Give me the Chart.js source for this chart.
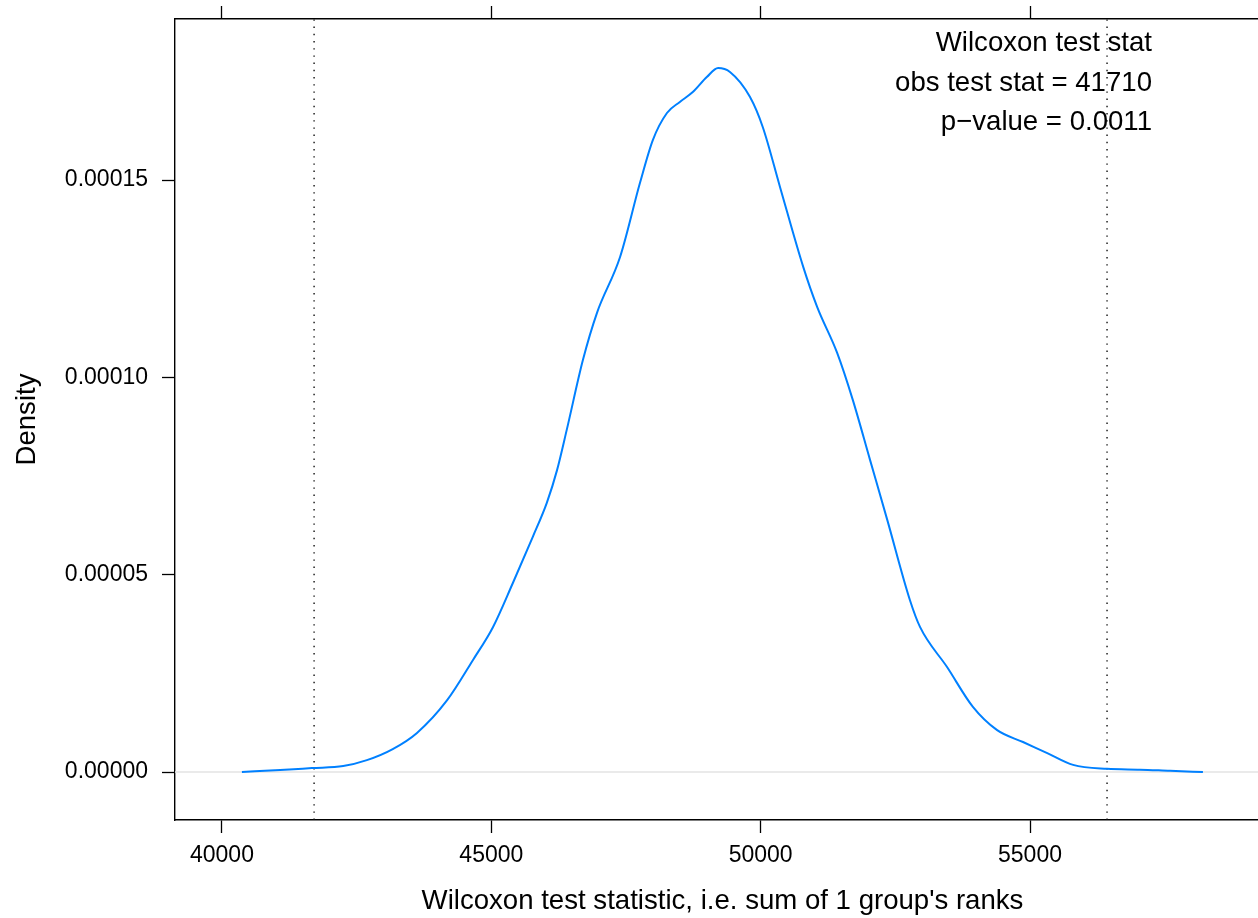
<!DOCTYPE html>
<html>
<head>
<meta charset="utf-8">
<title>Wilcoxon test statistic density</title>
<script src="https://cdn.jsdelivr.net/npm/chart.js@4/dist/chart.umd.min.js"></script>
<style>
  html, body { margin: 0; padding: 0; background: #fff; overflow: hidden; }
  #wrap { position: relative; width: 1270px; height: 918px; }
</style>
</head>
<body>
<div id="wrap"><canvas id="chart"></canvas></div>
<script>
// Permutation distribution of the rank-sum statistic (kernel density estimate)
const statValues = [
  40370, 41080, 41670, 42250, 42690, 43170, 43620, 44180, 44660, 45030,
  45400, 45770, 46030, 46220, 46400, 46700, 46960, 47390, 47760, 48000,
  48260, 48500, 48740, 49000, 49210, 49430, 49800, 50040, 50360, 50790,
  51050, 51420, 51710, 52030, 52350, 52770, 52960, 53460, 53940, 54390,
  54870, 55320, 55800, 56430, 57040, 57600, 58210
];
const densityValues = [
  0.0000000, 0.0000005, 0.0000010, 0.0000015, 0.0000030, 0.0000058, 0.0000099, 0.0000182, 0.0000284, 0.0000367,
  0.0000479, 0.0000596, 0.0000682, 0.0000765, 0.0000867, 0.0001044, 0.0001163, 0.0001305, 0.0001493, 0.0001602,
  0.0001670, 0.0001698, 0.0001723, 0.0001761, 0.0001784, 0.0001774, 0.0001711, 0.0001634, 0.0001482, 0.0001280,
  0.0001178, 0.0001062, 0.0000943, 0.0000791, 0.0000639, 0.0000436, 0.0000367, 0.0000266, 0.0000165, 0.0000106,
  0.0000076, 0.0000048, 0.0000018, 0.0000008, 0.0000006, 0.0000003, 0.0000000
];

// Observed statistic and its mirror image about the null centre
const observedStat = 41710;
const referenceLines = [41710, 56430];
const pValue = "0.0011";

// Tick positions and labels
const xTicks = [40000, 45000, 50000, 55000];
const yTicks = [0, 0.00005, 0.0001, 0.00015];

// Axis ranges
const xRange = [39128, 59455];
const yRange = [-0.00001216, 0.00019082];

const annotationLines = [
  "Wilcoxon test stat",
  "obs test stat = " + observedStat,
  "p\u2212value = " + pValue
];

const FONT = "'Liberation Sans', Arial, Helvetica, sans-serif";

const curveData = statValues.map((x, i) => ({ x: x, y: densityValues[i] }));
const refDatasets = referenceLines.map(v => ({
  data: [{ x: v, y: yRange[0] }, { x: v, y: yRange[1] }],
  borderColor: '#111111',
  borderWidth: 1.4,
  borderDash: [1.4, 5.8],
  pointRadius: 0,
  fill: false,
  order: 1
}));

// Key text in the upper right of the panel
const annotationPlugin = {
  id: 'statAnnotation',
  beforeDatasetsDraw(chart) {
    const ctx = chart.ctx;
    ctx.save();
    ctx.font = "27.6px " + FONT;
    ctx.fillStyle = '#000';
    ctx.textAlign = 'right';
    ctx.textBaseline = 'alphabetic';
    const baselines = [51, 91, 130];
    annotationLines.forEach((t, i) => ctx.fillText(t, 1152, baselines[i]));
    ctx.restore();
  }
};

const noPad = s => { s.paddingTop = 0; s.paddingBottom = 0; s.paddingLeft = 0; s.paddingRight = 0; };

new Chart(document.getElementById('chart'), {
  type: 'line',
  data: {
    datasets: [
      {
        data: curveData,
        borderColor: '#0080ff',
        borderWidth: 2,
        pointRadius: 0,
        fill: false,
        cubicInterpolationMode: 'monotone',
        order: 0
      },
      ...refDatasets,
      {
        data: [{ x: xRange[0], y: 0 }, { x: xRange[1], y: 0 }],
        borderColor: '#e3e3e3',
        borderWidth: 1.6,
        pointRadius: 0,
        fill: false,
        order: 2
      }
    ]
  },
  options: {
    responsive: true,
    maintainAspectRatio: false,
    animation: false,
    layout: { padding: 0 },
    plugins: {
      legend: { display: false },
      tooltip: { enabled: false }
    },
    scales: {
      x: {
        type: 'linear',
        position: 'bottom',
        min: xRange[0],
        max: xRange[1],
        afterBuildTicks: s => { s.ticks = xTicks.map(v => ({ value: v })); },
        afterFit: s => { s.height = 98; noPad(s); },
        ticks: {
          callback: v => String(v),
          color: '#000',
          font: { family: FONT, size: 23 },
          padding: 9,
          maxRotation: 0,
          autoSkip: false
        },
        grid: { drawOnChartArea: false, drawTicks: true, tickLength: 13, tickColor: '#000', tickWidth: 1.3 },
        border: { display: true, color: '#000', width: 1.4 },
        title: {
          display: true,
          text: "Wilcoxon test statistic, i.e. sum of 1 group's ranks",
          color: '#000',
          font: { family: FONT, size: 27.6 },
          padding: { top: 0, bottom: 0 }
        }
      },
      x2: {
        type: 'linear',
        position: 'top',
        min: xRange[0],
        max: xRange[1],
        afterBuildTicks: s => { s.ticks = xTicks.map(v => ({ value: v })); },
        afterFit: s => { s.height = 19; noPad(s); },
        ticks: { display: false },
        grid: { drawOnChartArea: false, drawTicks: true, tickLength: 13, tickColor: '#000', tickWidth: 1.3 },
        border: { display: true, color: '#000', width: 1.4 }
      },
      y: {
        type: 'linear',
        position: 'left',
        min: yRange[0],
        max: yRange[1],
        afterBuildTicks: s => { s.ticks = yTicks.map(v => ({ value: v })); },
        afterFit: s => { s.width = 175; noPad(s); },
        ticks: {
          callback: v => Number(v).toFixed(5),
          color: '#000',
          font: { family: FONT, size: 23 },
          padding: 14
        },
        grid: { drawOnChartArea: false, drawTicks: true, tickLength: 13, tickColor: '#000', tickWidth: 1.3 },
        border: { display: true, color: '#000', width: 1.4 },
        title: {
          display: true,
          text: 'Density',
          color: '#000',
          font: { family: FONT, size: 27.6 },
          padding: { top: 11, bottom: 0 }
        }
      }
    }
  },
  plugins: [annotationPlugin]
});
</script>
</body>
</html>
